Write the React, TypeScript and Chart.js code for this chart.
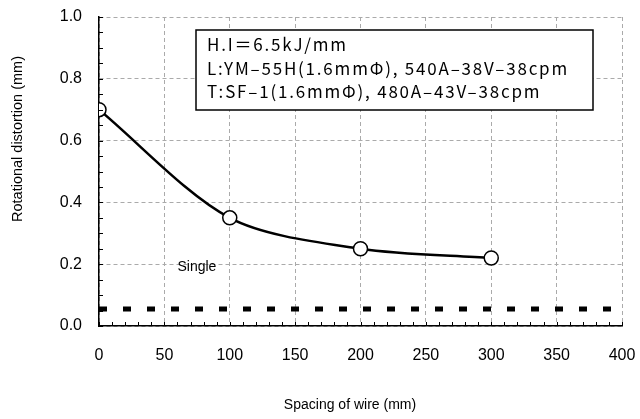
import React, { useEffect, useRef } from "react";
import { Chart, registerables } from "chart.js";

Chart.register(...registerables);

const spacing = [0, 100, 200, 300];
const distortion = [0.7, 0.35, 0.25, 0.22];
const singleX = [0, 400];
const singleY = [0.055, 0.055];
const singleLabel = "Single";
const singleLabelAt = [60, 0.19];
const infoLines = [
  "H.I\uFF1D6.5kJ/mm",
  "L:YM\u201355H(1.6mm\u03A6), 540A\u201338V\u201338cpm",
  "T:SF\u20131(1.6mm\u03A6), 480A\u201343V\u201338cpm",
];
const xTitle = "Spacing of wire (mm)";
const yTitle = "Rotational distortion (mm)";

const FONT = "'Liberation Sans', Arial, sans-serif";
const JFONT = "'Noto Sans CJK JP', 'Liberation Sans', sans-serif";

const extrasPlugin = {
  id: "extras",
  afterDraw(chart: any) {
    const { ctx, chartArea, scales } = chart;
    const xs = scales.x;
    const ys = scales.y;
    ctx.save();
    // minor ticks
    ctx.strokeStyle = "#000";
    ctx.lineWidth = 1;
    ctx.beginPath();
    for (let v = 0; v <= 400; v += 10) {
      const px = Math.round(xs.getPixelForValue(v)) + 0.5;
      ctx.moveTo(px, chartArea.bottom);
      ctx.lineTo(px, chartArea.bottom - 4);
    }
    for (let i = 0; i <= 20; i++) {
      const py = Math.round(ys.getPixelForValue(i * 0.05)) + 0.5;
      ctx.moveTo(chartArea.left, py);
      ctx.lineTo(chartArea.left + 4, py);
    }
    ctx.stroke();

    // Single label
    ctx.fillStyle = "#000";
    ctx.font = `14px ${FONT}`;
    ctx.textAlign = "left";
    ctx.textBaseline = "middle";
    ctx.fillText(
      singleLabel,
      xs.getPixelForValue(singleLabelAt[0]),
      ys.getPixelForValue(singleLabelAt[1])
    );

    // axis titles
    ctx.textAlign = "center";
    ctx.font = `14px ${FONT}`;
    ctx.fillText(xTitle, chartArea.left + 251, chartArea.bottom + 79);
    ctx.save();
    ctx.translate(18, chartArea.top + 122);
    ctx.rotate(-Math.PI / 2);
    ctx.font = `14.5px ${FONT}`;
    ctx.fillText(yTitle, 0, 0);
    ctx.restore();

    // info box
    const bx = chartArea.left + 97;
    const by = chartArea.top + 13;
    const bw = 397;
    const bh = 80;
    ctx.fillStyle = "#fff";
    ctx.fillRect(bx, by, bw, bh);
    ctx.strokeStyle = "#000";
    ctx.lineWidth = 1.5;
    ctx.strokeRect(bx, by, bw, bh);
    ctx.fillStyle = "#000";
    ctx.textAlign = "left";
    ctx.font = `17px ${JFONT}`;
    (ctx as any).letterSpacing = "1.8px";
    infoLines.forEach((t, i) => {
      ctx.fillText(t, bx + 11, by + 15 + i * 23.5);
    });
    ctx.restore();
  },
};

export default function App() {
  const ref = useRef<HTMLCanvasElement>(null);
  useEffect(() => {
    if (!ref.current) return;
    const chart = new Chart(ref.current, {
      type: "line",
      data: {
        datasets: [
          {
            label: "Tandem",
            data: spacing.map((x, i) => ({ x, y: distortion[i] })),
            borderColor: "#000",
            borderWidth: 2.5,
            tension: 0.3,
            pointRadius: 7,
            pointBackgroundColor: "#fff",
            pointBorderColor: "#000",
            pointBorderWidth: 1.5,
            order: 0,
          },
          {
            label: "Single",
            data: singleX.map((x, i) => ({ x, y: singleY[i] })),
            borderColor: "#000",
            borderWidth: 5,
            borderDash: [8, 16],
            pointRadius: 0,
            order: 1,
          },
        ],
      },
      options: {
        responsive: false,
        animation: false,
        layout: { padding: { top: 17, right: 18, left: 0, bottom: 0 } },
        plugins: { legend: { display: false }, tooltip: { enabled: false } },
        scales: {
          x: {
            type: "linear",
            min: 0,
            max: 400,
            ticks: {
              stepSize: 50,
              color: "#000",
              font: { family: FONT, size: 16 },
              padding: 20,
              maxRotation: 0,
            },
            grid: { color: "#aaa", drawTicks: false, lineWidth: 1 },
            border: { display: true, color: "#000", width: 1.5, dash: [4, 3] },
            title: { display: false, text: xTitle },
            afterFit: (s: any) => {
              s.height = 93;
              s.paddingLeft = 0;
              s.paddingRight = 0;
            },
          },
          y: {
            type: "linear",
            min: 0,
            max: 1,
            ticks: {
              stepSize: 0.2,
              color: "#000",
              font: { family: FONT, size: 16 },
              padding: 17,
              callback: (v: any) => Number(v).toFixed(1),
            },
            grid: { color: "#aaa", drawTicks: false, lineWidth: 1 },
            border: { display: true, color: "#000", width: 1.5, dash: [4, 3] },
            title: { display: false, text: yTitle },
            afterFit: (s: any) => {
              s.width = 99;
              s.paddingTop = 0;
              s.paddingBottom = 0;
            },
          },
        },
      },
      plugins: [extrasPlugin],
    });
    return () => chart.destroy();
  }, []);
  return (
    <div style={{ position: "fixed", left: 0, top: 0, width: 640, height: 419, background: "#fff" }}>
      <canvas ref={ref} width={640} height={419} />
    </div>
  );
}
